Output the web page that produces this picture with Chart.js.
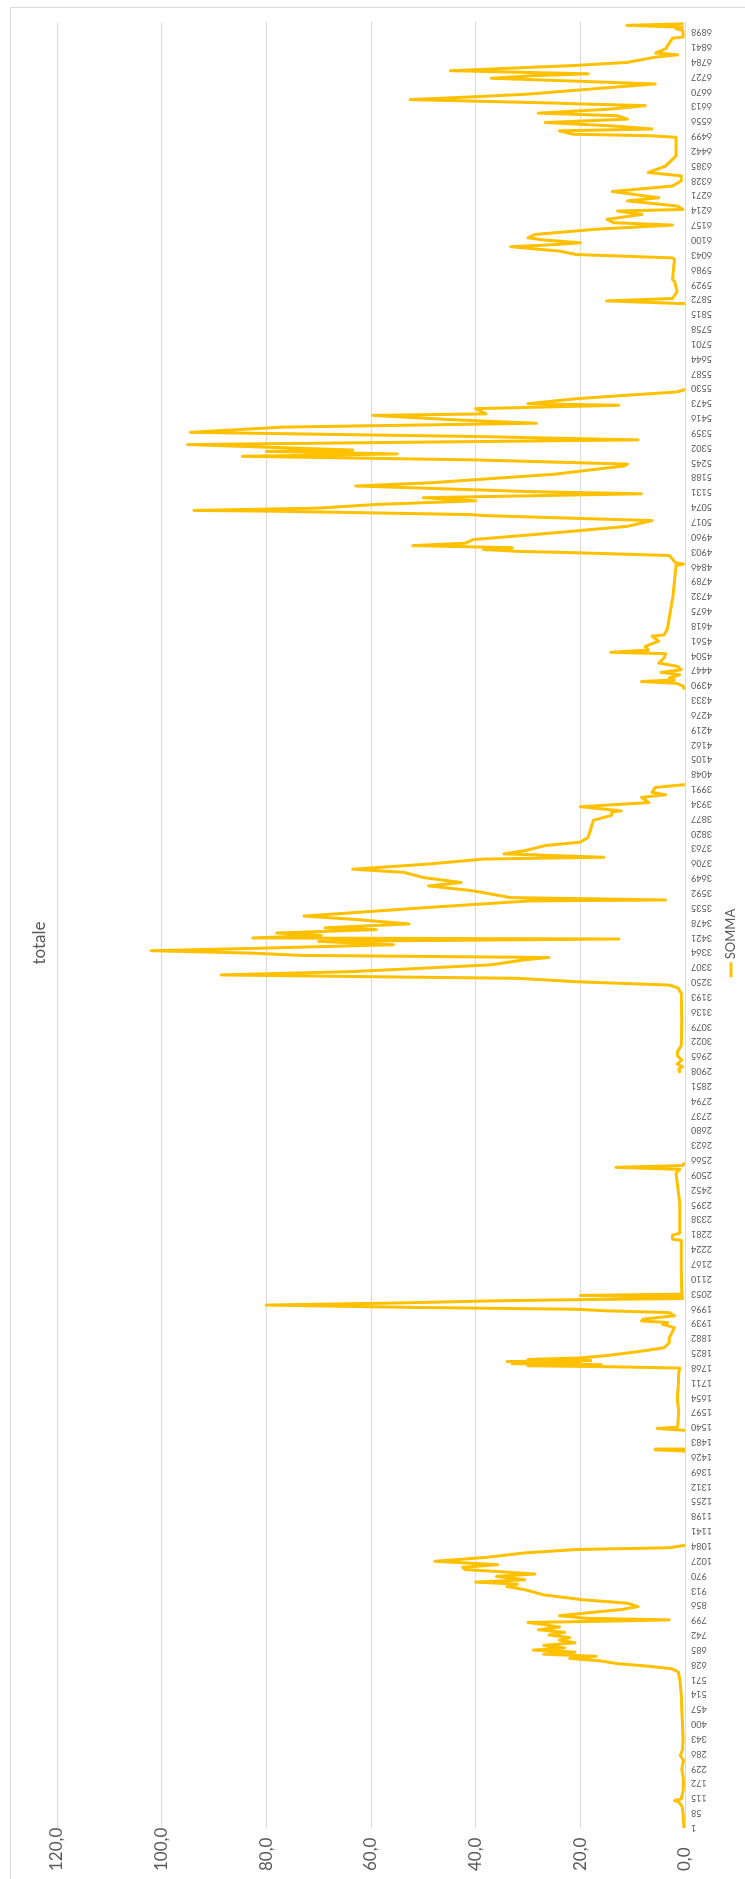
<!DOCTYPE html>
<html>
<head>
<meta charset="utf-8">
<script src="https://cdn.jsdelivr.net/npm/chart.js@4.4.1/dist/chart.umd.min.js"></script>
<style>
  html, body { margin: 0; padding: 0; background: #fff; overflow: hidden; }
  /* the chart is drawn landscape and turned a quarter turn to the left */
  #frame {
    position: absolute; left: 0; top: 0;
    width: 1879px; height: 745px;
    transform-origin: 0 0;
    transform: translateY(1879px) rotate(-90deg);
  }
</style>
</head>
<body>
<div id="frame"><canvas id="chart" width="1879" height="745"></canvas></div>
<script>
// row number of each sample (null value = empty cells, the line breaks there)
const rowNumbers = [
    1, 30, 58, 85, 100, 106, 112, 140, 172, 200, 229, 260, 280, 300, 343, 400, 457, 514, 571, 600,
    612, 622, 632, 642, 652, 660, 668, 676, 684, 692, 702, 712, 722, 732, 742, 752, 762, 772, 782, 790,
    796, 800, 806, 816, 828, 840, 851, 864, 877, 896, 916, 928, 937, 945, 954, 967, 976, 986, 993, 1002,
    1012, 1025, 1040, 1057, 1070, 1077, 1086, 1090,
    1448, 1453, 1456, 1460,
    1528, 1535, 1540, 1548, 1600, 1650, 1700, 1750, 1767, 1772, 1776, 1780, 1784, 1788, 1792, 1796, 1800, 1806,
    1815, 1830, 1845, 1864, 1883, 1903, 1922, 1935, 1942, 1948, 1955, 1968, 1980, 1987, 1993, 2000, 2009, 2017,
    2025, 2030, 2034, 2040, 2046, 2051, 2060, 2150, 2258, 2262, 2277, 2285, 2400, 2516, 2530, 2538, 2545, 2552, 2556,
    2905, 2916, 2925, 2935, 2950, 2965, 2980, 3006, 3100, 3206, 3228, 3238, 3251, 3264, 3271, 3277, 3290, 3303,
    3316, 3335, 3344, 3352, 3361, 3370, 3380, 3393, 3406, 3415, 3419, 3429, 3438, 3451, 3458, 3473, 3490, 3503,
    3516, 3535, 3561, 3565, 3574, 3600, 3619, 3632, 3651, 3671, 3683, 3703, 3722, 3729, 3742, 3754, 3774, 3787,
    3806, 3838, 3871, 3890, 3903, 3907, 3923, 3939, 3959, 3969, 3978, 3997, 4008, 4012,
    4378, 4387, 4397, 4404, 4410, 4417, 4430, 4439, 4449, 4462, 4475, 4494, 4511, 4516, 4525, 4539, 4559, 4578,
    4583, 4604, 4733, 4849, 4855, 4860, 4888, 4898, 4904, 4911, 4918, 4926, 4935, 4949, 4975, 5000, 5022, 5041,
    5045, 5058, 5061, 5070, 5084, 5098, 5110, 5125, 5133, 5155, 5168, 5174, 5200, 5232, 5239, 5255, 5269, 5278,
    5288, 5293, 5314, 5332, 5345, 5361, 5381, 5396, 5410, 5426, 5432, 5452, 5465, 5471, 5490, 5505, 5516, 5525, 5530,
    5855, 5866, 5875, 5903, 5941, 5948, 6025, 6031, 6044, 6057, 6074, 6082, 6089, 6100, 6108, 6121, 6141, 6157,
    6166, 6179, 6198, 6211, 6217, 6230, 6250, 6262, 6286, 6307, 6327, 6346, 6359, 6384, 6423, 6494, 6500, 6506,
    6519, 6526, 6538, 6551, 6564, 6577, 6587, 6603, 6616, 6622, 6626, 6639, 6650, 6660, 6686, 6699, 6712, 6721,
    6731, 6738, 6750, 6770, 6782, 6802, 6811, 6818, 6834, 6875, 6879, 6904, 6911, 6917, 6924, 6930
];

const sommaValues = [
    0.2, 0.3, 0.4, 0.6, 1.2, 2.0, 0.7, 0.4, 0.3, 0.4, 0.6, 0.3, 0.9, 0.5, 0.4, 0.5, 0.6, 0.7, 1.0, 1.3,
    2.5, 7, 13, 16, 22, 17, 27, 21, 29, 23, 27, 21, 24, 22, 26, 23, 28, 24, 27, 30,
    12, 3, 19, 24, 18, 12, 9, 11, 19.5, 27, 30.6, 34, 32, 40, 30.6, 36, 28.7, 36, 42, 42.5,
    35.8, 47.8, 38, 30.7, 20.8, 3, 0, null,
    0, 5.7, 0, null,
    0, 5.3, 1.5, 1.4, 1.2, 1.5, 1.3, 1.2, 1.0, 14, 30, 16, 33, 20, 34, 18, 30, 20,
    15, 9, 4, 3, 3, 2.5, 2, 4.3, 3.3, 8.3, 8, 2, 3, 15, 21, 52, 80, 55,
    37, 20, 0.5, 0.5, 20, 0.5, 0.6, 0.7, 0.7, 2.4, 2.4, 1.0, 1.0, 1.7, 1.0, 13.2, 0.5, 0.2, null,
    1.0, 1.2, 0.5, 1.5, 0.6, 1.4, 1.5, 0.7, 0.6, 0.7, 1.4, 3, 20.8, 32, 63.5, 88.6, 63.5, 50,
    37, 30.7, 26, 73.4, 83, 102, 80.7, 55.7, 70, 12.6, 82.6, 69.5, 78, 59, 68.8, 52.7, 63, 72.8,
    63.5, 50, 30, 3.7, 33.3, 40.5, 49, 42.8, 50, 53.7, 63.5, 49, 38.5, 15.5, 34.6, 30.7, 26.7, 20,
    18.5, 18, 17.5, 14, 14, 12.2, 20, 6.9, 8.3, 3.7, 6.3, 5.7, 0, null,
    0.2, 0.4, 1.7, 8.3, 2, 3, 1, 4.6, 0.7, 1.4, 5, 4, 3.7, 14.2, 7, 7.6, 5, 6.3,
    4, 3.4, 2.3, 1.7, 0.3, 1.8, 3, 20, 32, 38.5, 33, 52, 42, 40.5, 25, 11, 6.3, 38,
    41, 78, 93.8, 70, 59, 40, 50, 8.3, 29, 62.9, 47.8, 43.8, 25, 11.6, 11, 40, 84.6, 55,
    80, 63.5, 95, 9, 40, 94.5, 77, 28.4, 45, 59.6, 38, 40, 12.6, 30, 20.8, 10, 1.6, 0, null,
    0, 15, 2.4, 1.5, 2, 2.4, 2, 2.4, 20.8, 24, 33.3, 25, 20, 27, 30, 28.7, 17, 2.4,
    13.6, 14.9, 8.2, 12.9, 0.4, 1.4, 11, 5, 13.9, 2.4, 0.7, 0.7, 7, 3.7, 1.7, 1.7, 6.3, 21.4,
    24, 6.3, 14, 26.7, 11, 13, 28, 14, 7.6, 19.5, 25.7, 52.5, 40, 30, 14, 5.7, 24, 37,
    29, 18.5, 44.8, 21, 11, 5.7, 1.4, 5.6, 3.7, 2.4, 0.4, 0.4, 1.7, 0.5, 11.1, 0.5
];

// category labels printed along the axis
const tickRows = [
    1, 58, 115, 172, 229, 286, 343, 400, 457, 514, 571, 628, 685, 742, 799, 856, 913, 970, 1027, 1084,
    1141, 1198, 1255, 1312, 1369, 1426, 1483, 1540, 1597, 1654, 1711, 1768, 1825, 1882, 1939, 1996, 2053, 2110,
    2167, 2224, 2281, 2338, 2395, 2452, 2509, 2566, 2623, 2680, 2737, 2794, 2851, 2908, 2965, 3022, 3079, 3136,
    3193, 3250, 3307, 3364, 3421, 3478, 3535, 3592, 3649, 3706, 3763, 3820, 3877, 3934, 3991, 4048, 4105, 4162,
    4219, 4276, 4333, 4390, 4447, 4504, 4561, 4618, 4675, 4732, 4789, 4846, 4903, 4960, 5017, 5074, 5131, 5188,
    5245, 5302, 5359, 5416, 5473, 5530, 5587, 5644, 5701, 5758, 5815, 5872, 5929, 5986, 6043, 6100, 6157, 6214,
    6271, 6328, 6385, 6442, 6499, 6556, 6613, 6670, 6727, 6784, 6841, 6898
];
const valueTicks = [0, 20, 40, 60, 80, 100, 120];

const TEXT = '#595959';
const FONT = 'Lato, "Open Sans", sans-serif';

// frame, title and legend of the Excel chart (title on top, legend at the bottom, both centred)
const chartDecor = {
    id: 'chartDecor',
    beforeDraw(chart) {
        const ctx = chart.ctx;
        ctx.save();
        ctx.fillStyle = '#fff';
        ctx.fillRect(0, 0, chart.width, chart.height);
        ctx.strokeStyle = '#d9d9d9';
        ctx.lineWidth = 1;
        ctx.beginPath();
        ctx.moveTo(0, 10.5);
        ctx.lineTo(1871.5, 10.5);
        ctx.lineTo(1871.5, chart.height);
        ctx.stroke();
        ctx.restore();
    },
    afterDraw(chart) {
        const ctx = chart.ctx;
        const ds = chart.data.datasets[0];
        const cx = 936;
        ctx.save();
        ctx.fillStyle = TEXT;
        ctx.textBaseline = 'middle';
        ctx.font = '17px ' + FONT;
        ctx.textAlign = 'center';
        ctx.fillText('totale', cx, 40);

        // legend: short line sample + series name
        ctx.font = '13px ' + FONT;
        const tw = ctx.measureText(ds.label).width;
        const lx = cx - (tw + 18) / 2, ly = 731;
        ctx.strokeStyle = ds.borderColor;
        ctx.lineWidth = 3;
        ctx.beginPath();
        ctx.moveTo(lx, ly);
        ctx.lineTo(lx + 15, ly);
        ctx.stroke();
        ctx.textAlign = 'left';
        ctx.fillText(ds.label, lx + 18, ly);
        ctx.restore();
    }
};

const points = rowNumbers.map((r, i) => ({ x: r, y: sommaValues[i] }));

new Chart(document.getElementById('chart').getContext('2d'), {
    type: 'line',
    data: {
        datasets: [{
            label: 'SOMMA',
            data: points,
            borderColor: '#FFC000',
            borderWidth: 3,
            borderJoinStyle: 'round',
            borderCapStyle: 'round',
            pointRadius: 0,
            tension: 0,
            spanGaps: false,
            fill: false
        }]
    },
    options: {
        responsive: false,
        animation: false,
        devicePixelRatio: 1,
        layout: {
            padding: { left: 8, right: 22, top: 57, bottom: 0 }
        },
        plugins: {
            legend: { display: false },
            title: { display: false },
            tooltip: { enabled: false }
        },
        scales: {
            x: {
                type: 'linear',
                min: 0.5,
                max: 6937,
                afterBuildTicks: (scale) => {
                    scale.ticks = tickRows.map(v => ({ value: v }));
                },
                afterFit: (scale) => { scale.height = 60; },
                grid: { display: false, drawTicks: false },
                border: { display: false },
                ticks: {
                    autoSkip: false,
                    minRotation: 90,
                    maxRotation: 90,
                    padding: 6,
                    color: TEXT,
                    font: { family: FONT, size: 9 },
                    callback: (v) => String(v)
                }
            },
            y: {
                min: 0,
                max: 120,
                afterBuildTicks: (scale) => {
                    scale.ticks = valueTicks.map(v => ({ value: v }));
                },
                afterFit: (scale) => { scale.width = 43; },
                grid: { color: '#d9d9d9', drawTicks: false },
                border: { display: false },
                ticks: {
                    crossAlign: 'far',
                    padding: 0,
                    color: TEXT,
                    font: { family: FONT, size: 17 },
                    callback: (v) => v.toFixed(1).replace('.', ',')
                }
            }
        }
    },
    plugins: [chartDecor]
});
</script>
</body>
</html>
